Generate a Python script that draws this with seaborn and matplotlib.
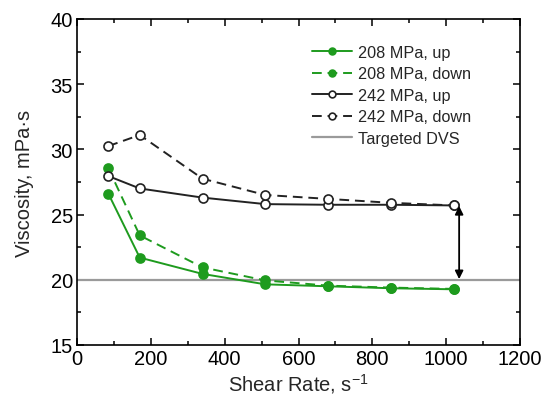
import matplotlib
matplotlib.use("Agg")
import matplotlib.pyplot as plt
from matplotlib.ticker import MultipleLocator
import seaborn as sns
import pandas as pd

shear_rate = [85, 170, 340, 510, 680, 850, 1020]
visc_208_up = [26.6, 21.7, 20.45, 19.65, 19.5, 19.35, 19.27]
visc_208_down = [28.55, 23.4, 20.95, 19.95, 19.55, 19.4, 19.3]
visc_242_up = [27.95, 27.0, 26.3, 25.8, 25.75, 25.75, 25.7]
visc_242_down = [30.25, 31.1, 27.75, 26.5, 26.2, 25.9, 25.7]
target_dvs = 20.0

series_names = ["208 MPa, up", "208 MPa, down", "242 MPa, up", "242 MPa, down"]

sns.set_theme(style="ticks")
plt.rcParams["font.family"] = ["Liberation Sans", "DejaVu Sans"]
plt.rcParams["mathtext.fontset"] = "custom"
plt.rcParams["mathtext.rm"] = "Liberation Sans"
plt.rcParams["mathtext.it"] = "Liberation Sans:italic"
plt.rcParams["mathtext.default"] = "regular"

fig = plt.figure(figsize=(5.44, 4.06), dpi=100)
ax = fig.add_axes([0.1415, 0.1478, 0.8145, 0.8032])

green = "#1e9b1e"
dark = "#222222"
styles = [
    dict(color=green, linestyle="-", marker="o", mfc=green, mec=green),
    dict(color=green, linestyle=(0, (5, 3)), marker="o", mfc=green, mec=green),
    dict(color=dark, linestyle="-", marker="o", mfc="white", mec=dark),
    dict(color=dark, linestyle=(0, (5, 3)), marker="o", mfc="white", mec=dark),
]

for name, vals, st in zip(series_names,
                          [visc_208_up, visc_208_down, visc_242_up, visc_242_down],
                          styles):
    df = pd.DataFrame({"x": shear_rate, "y": vals})
    sns.lineplot(data=df, x="x", y="y", ax=ax, label=name,
                 color=st["color"], linestyle=st["linestyle"], linewidth=1.4,
                 marker=st["marker"], markersize=6.5,
                 markerfacecolor=st["mfc"], markeredgecolor=st["mec"],
                 markeredgewidth=1.2, estimator=None, sort=False)

ax.axhline(target_dvs, color="#9a9a9a", linewidth=1.6, label="Targeted DVS", zorder=1)

# Gap between the high-pressure curve end and the target viscosity
ax.annotate("", xy=(1035, target_dvs + 0.05), xytext=(1035, visc_242_up[-1] - 0.05),
            arrowprops=dict(arrowstyle="<|-|>", color="black", lw=1.3,
                            mutation_scale=12, shrinkA=0, shrinkB=0))

ax.set_xlim(0, 1200)
ax.set_ylim(15, 40)
ax.xaxis.set_major_locator(MultipleLocator(200))
ax.xaxis.set_minor_locator(MultipleLocator(100))
ax.yaxis.set_major_locator(MultipleLocator(5))
ax.yaxis.set_minor_locator(MultipleLocator(2.5))
ax.tick_params(which="both", direction="in", top=True, right=True,
               labelsize=14.5, colors="black", pad=3)
ax.tick_params(which="major", length=5, width=1.1)
ax.tick_params(which="minor", length=3, width=1.1)
for sp in ax.spines.values():
    sp.set_linewidth(1.2)
    sp.set_color("black")

ax.set_xlabel("Shear Rate, s$^{-1}$", fontsize=14.5, labelpad=2)
ax.set_ylabel("Viscosity, mPa\u00b7s", fontsize=14.5, labelpad=12)

leg = ax.legend(loc="upper left", bbox_to_anchor=(0.53, 0.92), frameon=False,
                fontsize=11.7, handlelength=2.5, handletextpad=0.35,
                labelspacing=0.4, borderaxespad=0, borderpad=0,
                markerscale=0.75)

fig.savefig("out.png", dpi=100)
